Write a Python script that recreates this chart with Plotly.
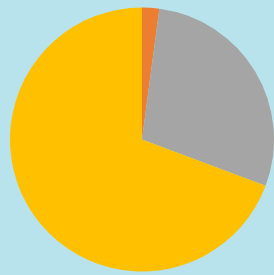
import plotly.graph_objects as go

labels = ["A", "B", "C"]
values = [2.1, 28.6, 69.3]
colors = ["#ED7D31", "#A5A5A5", "#FFC000"]

bg = "#B9E3EC"

fig = go.Figure(go.Pie(
    labels=labels,
    values=values,
    sort=False,
    direction="clockwise",
    rotation=0,
    textinfo="none",
    hoverinfo="label+percent",
    marker=dict(colors=colors, line=dict(width=0)),
    domain=dict(x=[10/274, 1.0], y=[2/275, 269/275]),
    showlegend=False,
))

fig.update_layout(
    width=274,
    height=275,
    margin=dict(l=0, r=0, t=0, b=0),
    paper_bgcolor=bg,
    plot_bgcolor=bg,
)

fig.write_html(
    "out.html",
    config={"displayModeBar": False},
    post_script=(
        "document.body.style.margin='0';"
        "document.body.style.padding='0';"
        "document.body.style.overflow='hidden';"
        "document.body.style.background='" + bg + "';"
    ),
)
